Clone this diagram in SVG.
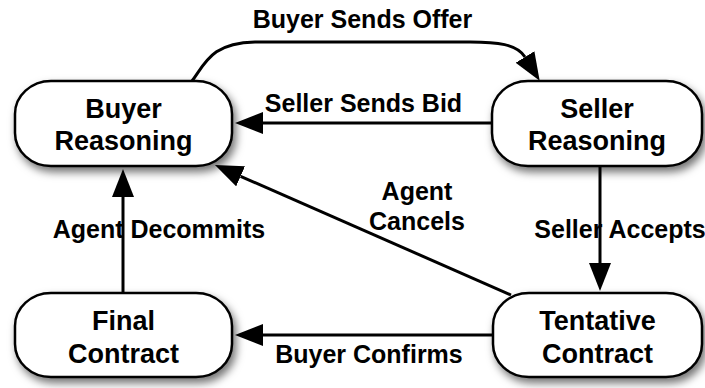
<svg xmlns="http://www.w3.org/2000/svg" width="705" height="388" viewBox="0 0 705 388">
<defs>
<filter id="sh" x="-20%" y="-20%" width="150%" height="160%">
<feDropShadow dx="3" dy="5" stdDeviation="4" flood-color="#000" flood-opacity="0.55"/>
</filter>
<marker id="arr" markerUnits="userSpaceOnUse" viewBox="0 0 28 22" markerWidth="28" markerHeight="22" refX="0" refY="11" orient="auto">
<path d="M0,0 L28,11 L0,22 z" fill="#000"/>
</marker>
</defs>
<style>
.node rect{fill:#fff;stroke:#000;stroke-width:2.5;filter:url(#sh)}
.nt{font-family:"Liberation Sans",Arial,Helvetica,sans-serif;font-weight:bold;font-size:27px;text-anchor:middle;fill:#000}
.lbl{font-family:"Liberation Sans",Arial,Helvetica,sans-serif;font-weight:bold;font-size:25px;text-anchor:middle;fill:#000}
.edge{fill:none;stroke:#000;stroke-width:3;marker-end:url(#arr)}
</style>
<g id="connectors">
<path class="edge" d="M192,81 C206,62 212,43 255,42 L470,42 C497,42 517,44 525,57"/>
<path class="edge" d="M492,123 L263,123"/>
<path class="edge" d="M511,295 L240.6,176.3"/>
<path class="edge" d="M600,166 L600,263"/>
<path class="edge" d="M493,335 L263,335"/>
<path class="edge" d="M123,293 L123,197"/>
</g>
<g id="buyer-reasoning" class="node">
<rect x="15" y="81" width="217" height="85" rx="36" ry="33"/>
<text class="nt" x="123.5" y="118">Buyer</text>
<text class="nt" x="123.5" y="150">Reasoning</text>
</g>
<g id="seller-reasoning" class="node">
<rect x="492" y="81" width="210" height="85" rx="36" ry="33"/>
<text class="nt" x="597" y="118">Seller</text>
<text class="nt" x="597" y="150">Reasoning</text>
</g>
<g id="final-contract" class="node">
<rect x="15" y="293" width="217" height="84" rx="36" ry="33"/>
<text class="nt" x="123.5" y="330">Final</text>
<text class="nt" x="123.5" y="363">Contract</text>
</g>
<g id="tentative-contract" class="node">
<rect x="493" y="293" width="209" height="84" rx="36" ry="33"/>
<text class="nt" x="597.5" y="330">Tentative</text>
<text class="nt" x="597.5" y="363">Contract</text>
</g>
<g id="labels">
<text class="lbl" x="362.5" y="28">Buyer Sends Offer</text>
<text class="lbl" x="363.5" y="112">Seller Sends Bid</text>
<text class="lbl" x="159" y="238">Agent Decommits</text>
<text class="lbl" x="620" y="238">Seller Accepts</text>
<text class="lbl" x="417" y="200">Agent</text>
<text class="lbl" x="417" y="230">Cancels</text>
<text class="lbl" x="369" y="363">Buyer Confirms</text>
</g>
</svg>
